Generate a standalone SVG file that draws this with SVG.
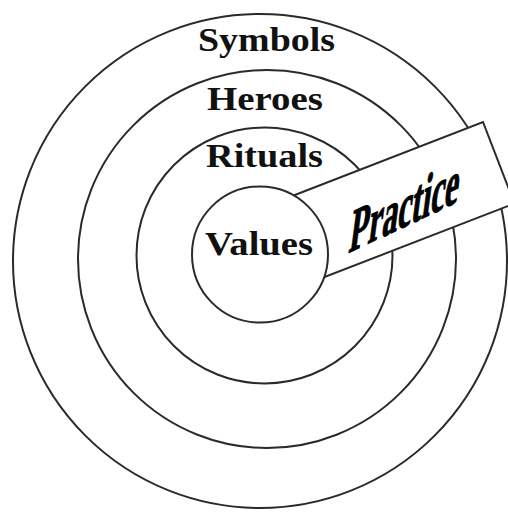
<svg xmlns="http://www.w3.org/2000/svg" width="508" height="512" viewBox="0 0 508 512">
  <style>
    .ring { fill: #ffffff; stroke: #2a2a2a; stroke-width: 2; }
    .band { fill: #ffffff; stroke: #2a2a2a; stroke-width: 2; stroke-linejoin: miter; }
    .lbl { font-family: "Liberation Serif", "Times New Roman", serif; font-weight: bold; font-size: 34px; fill: #111111; }
    .prac { font-family: "Liberation Serif", "Times New Roman", serif; font-weight: bold; font-size: 60px; fill: #000000; stroke: #000000; stroke-width: 1.2; }
  </style>
  <rect x="0" y="0" width="508" height="512" fill="#ffffff"/>
  <g id="symbols">
    <circle class="ring" cx="260" cy="261" r="247"/>
  </g>
  <g id="heroes">
    <circle class="ring" cx="267" cy="259" r="189"/>
  </g>
  <g id="rituals">
    <circle class="ring" cx="264.5" cy="255.5" r="128"/>
  </g>
  <g id="practice">
    <polygon class="band" points="260,208.5 483,122 514.5,203.5 260,302"/>
  </g>
  <g id="values">
    <circle class="ring" cx="260" cy="254.5" r="68"/>
  </g>
  <g id="labels">
    <text class="lbl" x="198" y="51" textLength="137" lengthAdjust="spacingAndGlyphs">Symbols</text>
    <text class="lbl" x="207" y="110" textLength="116" lengthAdjust="spacingAndGlyphs">Heroes</text>
    <text class="lbl" x="206" y="167" textLength="117" lengthAdjust="spacingAndGlyphs">Rituals</text>
    <text class="lbl" x="205" y="255" textLength="108" lengthAdjust="spacingAndGlyphs">Values</text>
    <text class="prac" transform="translate(348,253) skewY(-25) skewX(-8) scale(0.52,1)" x="0" y="0">Practice</text>
  </g>
</svg>
